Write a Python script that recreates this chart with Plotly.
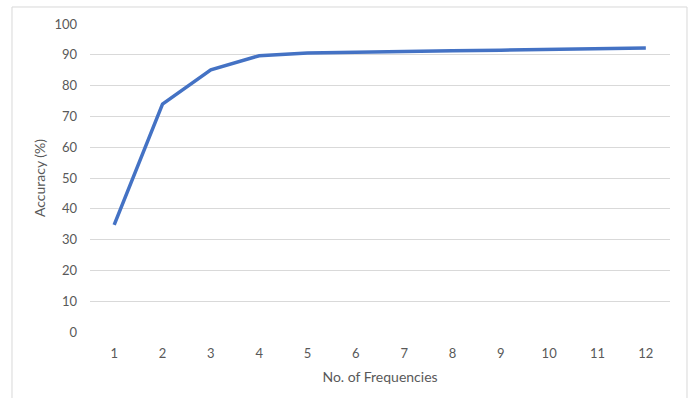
import plotly.graph_objects as go

frequencies = [str(i) for i in range(1, 13)]
accuracy = [34.8, 74.0, 85.1, 89.7, 90.6, 90.9, 91.1, 91.3, 91.5, 91.7, 92.0, 92.2]
y_ticks = list(range(0, 101, 10))

fig = go.Figure()
fig.add_trace(go.Scatter(
    x=frequencies, y=accuracy, mode="lines",
    line=dict(color="#4472C4", width=3.5),
    showlegend=False,
))

font = dict(family="Lato, Open Sans, sans-serif", size=13, color="#595959")

fig.update_layout(
    width=692, height=398,
    margin=dict(l=90, r=22, t=24, b=66),
    paper_bgcolor="white", plot_bgcolor="white",
    font=font,
    xaxis=dict(
        type="category", range=[-0.5, 11.5], showgrid=False, showline=False, zeroline=False,
        ticks="", ticklabelstandoff=12,
        title=dict(text="No. of Frequencies", font=dict(size=14, color="#595959"), standoff=12),
    ),
    yaxis=dict(
        range=[0, 100], tickvals=y_ticks, showgrid=True, gridcolor="#D9D9D9", gridwidth=1,
        zeroline=False, showline=False, ticks="", ticklabelstandoff=12,
        title=dict(text="Accuracy (%)", font=dict(size=14, color="#595959"), standoff=5),
    ),
    shapes=[dict(
        type="rect", xref="paper", yref="paper",
        x0=-0.1345, x1=1.0293, y0=-0.25, y1=1.0552,
        line=dict(color="#D9D9D9", width=1), fillcolor="rgba(0,0,0,0)", layer="below",
    )],
)

fig.write_html("out.html")
